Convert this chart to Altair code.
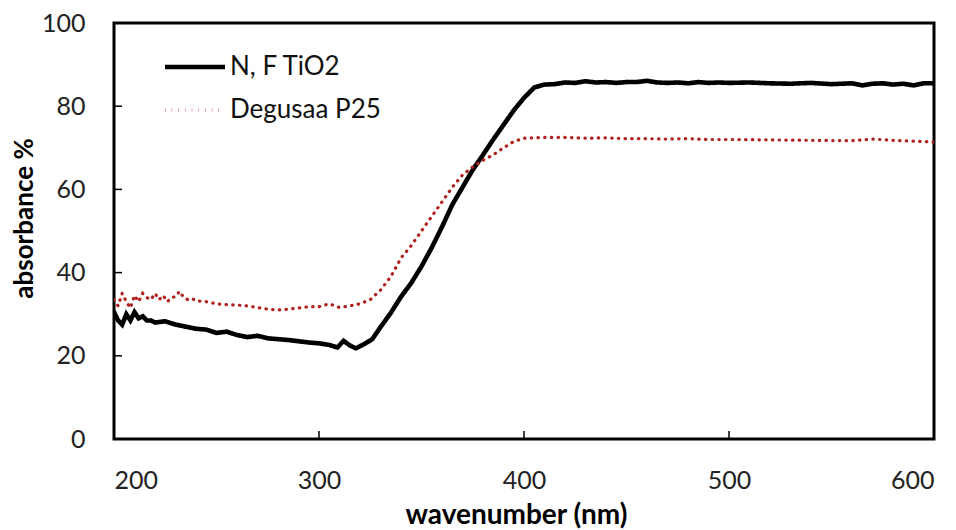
import altair as alt
import pandas as pd

# N, F TiO2 series
nf_x = [200, 202, 204, 206, 208, 210, 212, 214, 216, 218, 220,
        225, 230, 235, 240, 245, 250, 255, 260, 265, 270, 275, 280, 285, 290, 295,
        300, 305, 309, 312, 315, 318, 322, 326, 330, 335, 340, 345, 350, 355, 360,
        365, 370, 375, 380, 385, 390, 395, 400, 405, 410, 415, 420, 425, 430, 435,
        440, 445, 450, 455, 460, 465, 470, 475, 480, 485, 490, 495, 500, 510, 520,
        530, 540, 550, 560, 565, 570, 575, 580, 585, 590, 595, 600]
nf_y = [30.5, 28.5, 27.5, 30, 28.5, 30.5, 29, 29.5, 28.5, 28.5, 28,
        28.3, 27.5, 27, 26.5, 26.3, 25.5, 25.8, 25, 24.5, 24.8, 24.2, 24, 23.8, 23.5, 23.2,
        23, 22.6, 22, 23.6, 22.5, 21.8, 22.8, 24, 26.9, 30.3, 34.2, 37.5, 41.5, 46, 51,
        56.3, 60.5, 64.7, 68.3, 72, 75.5, 79, 82, 84.5, 85.2, 85.3, 85.7, 85.6, 86, 85.7,
        85.8, 85.6, 85.8, 85.8, 86.1, 85.7, 85.6, 85.7, 85.5, 85.8, 85.6, 85.7, 85.6, 85.7, 85.5,
        85.4, 85.6, 85.3, 85.5, 85.0, 85.4, 85.5, 85.2, 85.4, 85.0, 85.5, 85.5]

# Degusaa P25 series
dg_x = [200, 202, 204, 206, 208, 210, 212, 214, 216, 218, 220, 222, 224, 226, 228,
        230, 232, 234, 236, 238, 240, 245, 250, 255, 260, 265, 270, 275, 280, 285,
        290, 295, 300, 305, 310, 315, 320, 325, 330, 335, 340, 345, 350, 355, 360,
        365, 370, 375, 380, 385, 390, 395, 400, 405, 410, 420, 430, 440, 450, 460,
        470, 480, 490, 500, 520, 540, 560, 570, 580, 600]
dg_y = [33.5, 32, 35, 33, 31.5, 34.5, 33, 35, 34, 33.5, 35, 33.5, 34.5, 33, 34,
        34.2, 35.5, 34, 33.5, 33.8, 33.2, 33, 32.5, 32.3, 32.2, 32, 31.6, 31.2, 31, 31.2,
        31.5, 31.8, 31.8, 32.5, 31.6, 32, 32.5, 33.5, 35.8, 39, 43.5, 46.5, 50, 53.5, 57,
        60.5, 63.5, 65.4, 67, 68.3, 70, 71.5, 72.3, 72.4, 72.5, 72.5, 72.3, 72.4, 72.2, 72.2,
        72.1, 72.2, 72.0, 72.0, 71.9, 71.8, 71.7, 72.1, 71.8, 71.4]

series_names = ["N, F TiO2", "Degusaa P25"]
series_colors = ["#000000", "#B0201E"]

x_ticks = [200, 300, 400, 500, 600]
y_ticks = [0, 20, 40, 60, 80, 100]
x_inner_ticks = [300, 400, 500]
y_inner_ticks = [20, 40, 60, 80]

df = pd.concat([
    pd.DataFrame({"wl": nf_x, "abs": nf_y, "series": series_names[0], "order": range(len(nf_x))}),
    pd.DataFrame({"wl": dg_x, "abs": dg_y, "series": series_names[1], "order": range(len(dg_x))}),
])

FONT = "Lato"
xscale = alt.Scale(domain=[200, 600], nice=False)
yscale = alt.Scale(domain=[0, 100], nice=False)


def legend():
    return alt.Legend(title=None, orient="none", legendX=68, legendY=31,
                      symbolType="M-3,0L3,0", symbolSize=400,
                      labelFontSize=26, labelFont=FONT, labelColor="#111111",
                      labelOffset=22, rowPadding=17, padding=0)


lines = alt.Chart(df).mark_line(clip=True, strokeCap="round").encode(
    x=alt.X("wl:Q", scale=xscale,
            axis=alt.Axis(values=x_ticks, title="wavenumber (nm)", tickSize=0, domain=False,
                          grid=False, labelPadding=29, labelFontSize=25, labelFont=FONT,
                          labelColor="#222222", titleFont=FONT, titleFontSize=28,
                          titleFontWeight="bold", titleColor="#000000",
                          titleX=402, titleY=76, titleBaseline="middle", titleAlign="center")),
    y=alt.Y("abs:Q", scale=yscale,
            axis=alt.Axis(values=y_ticks, title="absorbance %", tickSize=0, domain=False,
                          grid=False, labelPadding=29, labelFontSize=25, labelFont=FONT,
                          labelColor="#222222", titleFont=FONT, titleFontSize=26,
                          titleFontWeight="bold", titleColor="#000000",
                          titleX=-90, titleY=195, titleBaseline="middle", titleAlign="center")),
    color=alt.Color("series:N", scale=alt.Scale(domain=series_names, range=series_colors),
                    legend=legend()),
    strokeDash=alt.StrokeDash("series:N", scale=alt.Scale(domain=series_names, range=[[1, 0], [0.4, 6.3]]),
                              legend=legend()),
    strokeWidth=alt.StrokeWidth("series:N", scale=alt.Scale(domain=series_names, range=[4.6, 3.2]),
                                legend=legend()),
    order="order:Q",
)

xt = pd.DataFrame({"x": x_inner_ticks})
yt = pd.DataFrame({"y": y_inner_ticks})
xtick_marks = alt.Chart(xt).mark_rule(color="#000000", strokeWidth=1.5).encode(
    x=alt.X("x:Q", scale=xscale), y=alt.datum(0), y2=alt.datum(1.9))
ytick_marks = alt.Chart(yt).mark_rule(color="#000000", strokeWidth=1.5).encode(
    y=alt.Y("y:Q", scale=yscale), x=alt.datum(200), x2=alt.datum(203.9))

chart = alt.layer(lines, xtick_marks, ytick_marks).properties(
    width=820, height=416,
    autosize=alt.AutoSizeParams(type="none"),
    padding={"left": 106, "top": 15, "right": 14, "bottom": 91},
    background="white",
).configure_view(stroke="#000000", strokeWidth=3)

chart.save("out.html", embed_options={"renderer": "svg", "actions": False})
